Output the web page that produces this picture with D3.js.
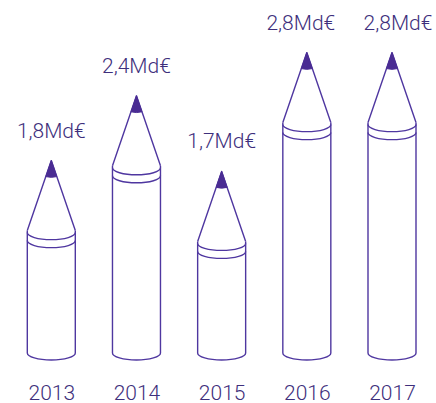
<!DOCTYPE html>
<html>
<head>
<meta charset="utf-8">
<script src="https://cdn.jsdelivr.net/npm/d3@7"></script>
<style>
  html, body { margin: 0; padding: 0; background: #fff; }
  text { font-family: Roboto, "Noto Sans", sans-serif; font-weight: 300; }
</style>
</head>
<body>
<div id="chart"></div>
<script>
// data
var years = ["2013", "2014", "2015", "2016", "2017"];
var values = [1.8, 2.4, 1.7, 2.8, 2.8];
var valueLabels = ["1,8Md€", "2,4Md€", "1,7Md€", "2,8Md€", "2,8Md€"];

var width = 436, height = 403;
var stroke = "#4f37a0";
var textColor = "#3e2f7c";
var halfW = 24;      // half width of a pencil
var coneH = 70;      // height of the sharpened part
var leadH = 16;      // height of the dark lead
var bottomY = 353;   // where the body ends

var svg = d3.select("#chart").append("svg")
  .attr("width", width)
  .attr("height", height);

var x = d3.scalePoint().domain(years).range([51.3, 392]);
var y = d3.scaleLinear().domain([0, 3]).range([355, 31]);

var data = years.map(function(yr, i){
  return {year: yr, value: values[i], label: valueLabels[i]};
});

var pencils = svg.append("g").attr("class", "pencils")
  .selectAll("g").data(data).enter().append("g");

// body
pencils.append("path")
  .attr("d", function(d){
    var cx = x(d.year), base = y(d.value) + coneH;
    return "M" + (cx - halfW) + "," + base +
      "L" + (cx - halfW) + "," + bottomY +
      "A" + halfW + ",7 0 0 0 " + (cx + halfW) + "," + bottomY +
      "L" + (cx + halfW) + "," + base;
  })
  .attr("fill", "#fff")
  .attr("stroke", stroke)
  .attr("stroke-width", 1.4);

// two bands under the cone
[2, 10].forEach(function(off){
  pencils.append("path")
    .attr("d", function(d){
      var cx = x(d.year), yy = y(d.value) + coneH + off;
      return "M" + (cx - halfW) + "," + yy +
        "A" + halfW + ",7 0 0 0 " + (cx + halfW) + "," + yy;
    })
    .attr("fill", "none")
    .attr("stroke", stroke)
    .attr("stroke-width", 1.4);
});

// cone
pencils.append("path")
  .attr("d", function(d){
    var cx = x(d.year), tip = y(d.value);
    return "M" + (cx - halfW) + "," + (tip + coneH) +
      "L" + cx + "," + tip +
      "L" + (cx + halfW) + "," + (tip + coneH);
  })
  .attr("fill", "none")
  .attr("stroke", stroke)
  .attr("stroke-width", 1.4)
  .attr("stroke-linejoin", "round");

// lead
pencils.append("path")
  .attr("d", function(d){
    var cx = x(d.year), tip = y(d.value);
    var lw = halfW * leadH / coneH;
    return "M" + cx + "," + tip +
      "L" + (cx + lw) + "," + (tip + leadH) +
      "Q" + cx + "," + (tip + leadH + 1.5) + " " + (cx - lw) + "," + (tip + leadH) + "Z";
  })
  .attr("fill", "#4a2c93")
  .attr("stroke", "#4a2c93")
  .attr("stroke-width", 1);

// value labels, neighbours at the same height are spread apart a little
pencils.append("text")
  .attr("x", function(d, i){
    var dx = 0;
    if (i > 0 && values[i - 1] === d.value) dx += 6;
    if (i < values.length - 1 && values[i + 1] === d.value) dx -= 6;
    return x(d.year) + dx;
  })
  .attr("y", function(d){ return y(d.value) - 23; })
  .attr("text-anchor", "middle")
  .attr("font-size", 21)
  .attr("fill", textColor)
  .text(function(d){ return d.label; });

// year axis
var xAxis = d3.axisBottom(x).tickSize(0).tickPadding(0);
var axisG = svg.append("g")
  .attr("transform", "translate(0,385)")
  .call(xAxis);
axisG.select(".domain").remove();
axisG.selectAll("text")
  .attr("font-size", 21)
  .attr("fill", textColor)
  .attr("dy", "0.71em")
  .style("font-family", "Roboto, 'Noto Sans', sans-serif")
  .style("font-weight", 300);
</script>
</body>
</html>
